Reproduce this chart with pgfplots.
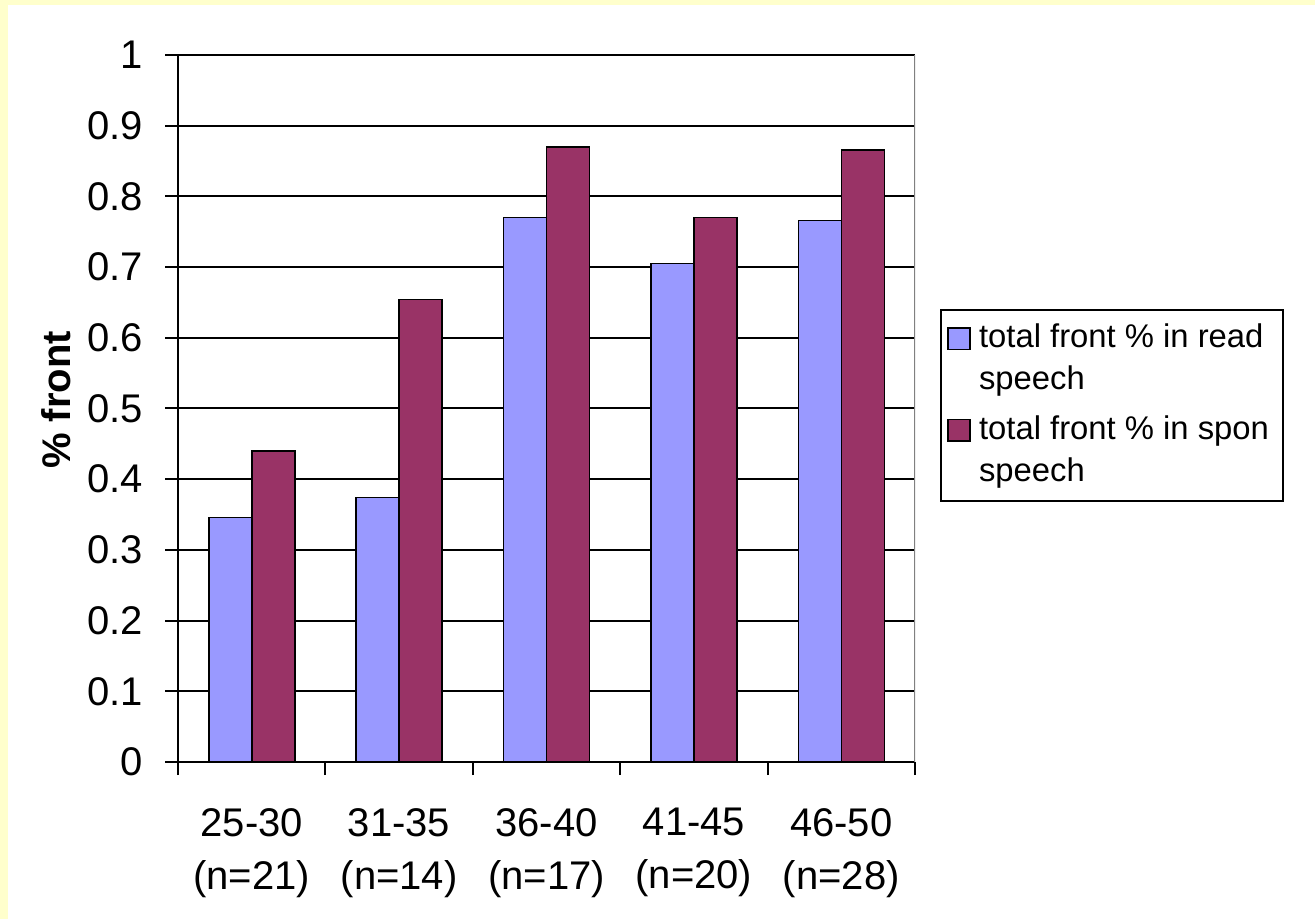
\documentclass[border=0pt]{standalone}
\usepackage{fontspec}
\setmainfont{Liberation Sans}
\usepackage{pgfplots}
\pgfplotsset{compat=1.18}
\definecolor{readc}{HTML}{9999FF}
\definecolor{sponc}{HTML}{993366}
\definecolor{bgyel}{HTML}{FFFFCC}
\begin{document}
\begin{tikzpicture}
\path[use as bounding box] (0pt,0pt) rectangle (328.75pt,229.75pt);
\fill[white] (0pt,0pt) rectangle (328.75pt,229.75pt);
\fill[bgyel] (0pt,0pt) rectangle (2pt,229.75pt);
\fill[bgyel] (0pt,228.5pt) rectangle (328.75pt,229.75pt);
\begin{axis}[
  at={(44.5pt,39.25pt)}, anchor=south west,
  scale only axis, width=184.25pt, height=176.75pt,
  ybar=0pt, bar width=10.75pt,
  xmin=-0.5, xmax=4.5, ymin=0, ymax=1,
  axis x line=bottom, axis y line=left,
  axis line style={-, line width=0.5pt, black},
  xtick={-0.5,0.5,1.5,2.5,3.5,4.5},
  x tick label as interval,
  xticklabels={{25-30\\(n=21)},{31-35\\(n=14)},{36-40\\(n=17)},{41-45\\(n=20)},{46-50\\(n=28)}},
  xticklabel style={align=center, font=\fontsize{10}{13.25}\selectfont, yshift=-4.75pt},
  ytick={0,0.1,...,1.01},
  xtick pos=bottom, ytick pos=left, tick align=outside, major tick length=3.25pt,
  tick style={draw=black, line width=0.5pt},
  yticklabel style={font=\fontsize{10}{12}\selectfont, xshift=-2pt, /pgf/number format/fixed, /pgf/number format/precision=1},
  /pgf/number format/assume math mode=true,
  ymajorgrids, grid style={black, line width=0.5pt},
  ylabel={\bfseries \% front},
  ylabel style={font=\fontsize{9.5}{11}\selectfont},
  every axis y label/.style={at={(axis description cs:-0.165,0.512)}, rotate=90, anchor=center},
  legend style={at={(1.034,0.504)}, anchor=west, draw=black, line width=0.5pt,
    font=\fontsize{8.2}{10.5}\selectfont, cells={align=left}, inner sep=1.5pt, row sep=1pt,
    /tikz/every even column/.append style={column sep=3pt}},
  legend cell align=left,
  legend image code/.code={\draw[#1, line width=0.4pt] (0pt,2.6pt) rectangle (5.6pt,8.0pt);},
]
\addplot[fill=readc, draw=black, line width=0.4pt] coordinates {(0,0.346) (1,0.374) (2,0.770) (3,0.705) (4,0.766)};
\addlegendentry{total front \% in read\\speech}
\addplot[fill=sponc, draw=black, line width=0.4pt] coordinates {(0,0.440) (1,0.654) (2,0.870) (3,0.770) (4,0.866)};
\addlegendentry{total front \% in spon\\speech}
\draw[gray, line width=0.4pt] (rel axis cs:1,0) -- (rel axis cs:1,1);
\end{axis}
\end{tikzpicture}
\end{document}
